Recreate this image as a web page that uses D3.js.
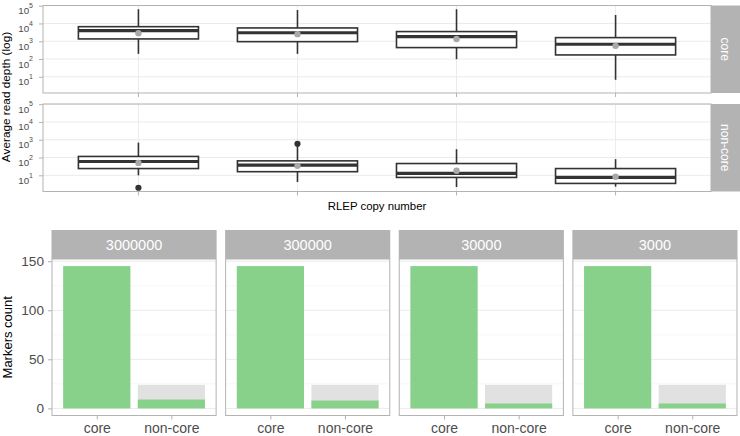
<!DOCTYPE html>
<html><head><meta charset="utf-8">
<script src="https://cdn.jsdelivr.net/npm/d3@7"></script>
<style>
body{margin:0;background:#fff}
svg{display:block}
text{font-family:"Liberation Sans",Arial,sans-serif}
</style>
</head><body>
<svg id="c" width="740" height="436"></svg>
<script>
// ---------- data ----------
const copyNumbers = ["3000000", "300000", "30000", "3000"];
const groups = ["core", "non-core"];

// boxplot statistics: average read depth
const coreLower  = [195, 195, 98, 6.8];
const coreQ1     = [1350, 950, 440, 170];
const coreMedian = [4000, 3000, 1800, 680];
const coreQ3     = [6600, 5600, 3500, 1600];
const coreUpper  = [63000, 57000, 63000, 30000];
const coreMean   = [2800, 2500, 1350, 550];

const nonCoreLower  = [10, 4.2, 2.2, 2.3];
const nonCoreQ1     = [24, 16, 7.6, 3.5];
const nonCoreMedian = [60, 37, 13, 7.6];
const nonCoreQ3     = [115, 65, 46, 24];
const nonCoreUpper  = [690, 420, 295, 81];
const nonCoreMean   = [50, 34, 18, 8.3];
const nonCoreOutliers = [[2.0], [590], [], []];

const depthTicks = [1e1, 1e2, 1e3, 1e4, 1e5];

// marker counts
const coreMarkers = [145, 145, 145, 145];
const coreTotal = [145, 145, 145, 145];
const nonCoreMarkers = [9, 8, 5, 5];
const nonCoreTotal = [24, 24, 24, 24];
const countTicks = [0, 50, 100, 150];
const countMinorTicks = [25, 75, 125];

// ---------- style ----------
const GRID = "#ebebeb", MINOR = "#f5f5f5", BORDER = "#b3b3b3", STRIP = "#b3b3b3", TXT = "#4d4d4d";
const BOX = "#333333", GREEN = "#88d18a", GREY_BAR = "#e1e1e1";

const svg = d3.select("#c");

// ================= TOP: boxplots =================
const topL = 43, topR = 711, stripR = 740;
const facetRows = [
  {name: "core", top: 5.5, bottom: 93,
   lower: coreLower, q1: coreQ1, med: coreMedian, q3: coreQ3, upper: coreUpper, mean: coreMean, out: [[], [], [], []]},
  {name: "non-core", top: 104, bottom: 191.5,
   lower: nonCoreLower, q1: nonCoreQ1, med: nonCoreMedian, q3: nonCoreQ3, upper: nonCoreUpper, mean: nonCoreMean, out: nonCoreOutliers}
];

const xTop = d3.scalePoint().domain(copyNumbers).range([topL, topR]).padding(0.6);
const boxW = xTop.step() * 0.755;

facetRows.forEach(row => {
  const y = d3.scaleLog().domain([Math.pow(10, 0.09), Math.pow(10, 5.01)]).range([row.bottom, row.top]);
  const g = svg.append("g");
  // grid
  g.selectAll(".hg").data(depthTicks).join("line")
    .attr("x1", topL).attr("x2", topR).attr("y1", d => y(d)).attr("y2", d => y(d))
    .attr("stroke", GRID).attr("stroke-width", 1);
  g.selectAll(".vg").data(copyNumbers).join("line")
    .attr("x1", d => xTop(d)).attr("x2", d => xTop(d)).attr("y1", row.top).attr("y2", row.bottom)
    .attr("stroke", GRID).attr("stroke-width", 1);

  // boxes
  copyNumbers.forEach((c, i) => {
    const cx = xTop(c);
    g.append("line").attr("x1", cx).attr("x2", cx).attr("y1", y(row.upper[i])).attr("y2", y(row.q3[i]))
      .attr("stroke", BOX).attr("stroke-width", 1.6);
    g.append("line").attr("x1", cx).attr("x2", cx).attr("y1", y(row.q1[i])).attr("y2", y(row.lower[i]))
      .attr("stroke", BOX).attr("stroke-width", 1.6);
    g.append("rect").attr("x", cx - boxW / 2).attr("width", boxW)
      .attr("y", y(row.q3[i])).attr("height", y(row.q1[i]) - y(row.q3[i]))
      .attr("fill", "#fff").attr("stroke", BOX).attr("stroke-width", 1.6);
    g.append("line").attr("x1", cx - boxW / 2).attr("x2", cx + boxW / 2)
      .attr("y1", y(row.med[i])).attr("y2", y(row.med[i]))
      .attr("stroke", BOX).attr("stroke-width", 3.2);
    row.out[i].forEach(o => {
      g.append("circle").attr("cx", cx).attr("cy", y(o)).attr("r", 3.1).attr("fill", BOX);
    });
    g.append("circle").attr("cx", cx).attr("cy", y(row.mean[i])).attr("r", 3.2).attr("fill", "#a9a9a9");
  });

  // border
  g.append("rect").attr("x", topL).attr("y", row.top).attr("width", topR - topL).attr("height", row.bottom - row.top)
    .attr("fill", "none").attr("stroke", BORDER).attr("stroke-width", 1);

  // strip
  g.append("rect").attr("x", topR).attr("y", row.top).attr("width", stripR - topR).attr("height", row.bottom - row.top)
    .attr("fill", STRIP);
  g.append("text").attr("transform", `translate(${(topR + stripR) / 2},${(row.top + row.bottom) / 2}) rotate(90)`)
    .attr("text-anchor", "middle").attr("dy", "0.35em").attr("fill", "#fff").attr("font-size", 12)
    .text(row.name);

  // y axis
  const ax = g.append("g").attr("transform", `translate(${topL},0)`)
    .call(d3.axisLeft(y).tickValues(depthTicks).tickSize(4).tickPadding(7).tickFormat(""));
  ax.select(".domain").remove();
  ax.selectAll(".tick line").attr("stroke", BORDER);
  ax.selectAll(".tick").each(function(d) {
    const t = d3.select(this).append("text").attr("x", -10).attr("y", 8)
      .attr("text-anchor", "end").attr("fill", TXT).attr("font-size", 9.8);
    t.append("tspan").text("10");
    t.append("tspan").attr("dy", -6.3).attr("font-size", 7).text(Math.round(Math.log10(d)));
  });
  // x ticks (no labels)
  g.selectAll(".xt").data(copyNumbers).join("line")
    .attr("x1", d => xTop(d)).attr("x2", d => xTop(d)).attr("y1", row.bottom).attr("y2", row.bottom + 4)
    .attr("stroke", BORDER);
});

svg.append("text").attr("transform", "translate(10,97) rotate(-90)").attr("text-anchor", "middle")
  .attr("fill", "#000").attr("font-size", 11.8).text("Average read depth (log)");
svg.append("text").attr("x", (topL + topR) / 2).attr("y", 209.5).attr("text-anchor", "middle")
  .attr("fill", "#000").attr("font-size", 11.4).text("RLEP copy number");

// ================= BOTTOM: bar facets =================
const bL = 52, bR = 737, gap = 9.5;
const panelW = (bR - bL - 3 * gap) / 4;
const stripTop = 230, pTop = 259, pBottom = 415.5;
const yC = d3.scaleLinear().domain([-7.25, 152.25]).range([pBottom, pTop]);

copyNumbers.forEach((c, i) => {
  const pl = bL + i * (panelW + gap);
  const xb = d3.scalePoint().domain(groups).range([pl, pl + panelW]).padding(0.6);
  const bw = xb.step() * 0.9;
  const g = svg.append("g");
  g.selectAll(".mg").data(countMinorTicks).join("line")
    .attr("x1", pl).attr("x2", pl + panelW).attr("y1", d => yC(d)).attr("y2", d => yC(d))
    .attr("stroke", MINOR).attr("stroke-width", 0.8);
  g.selectAll(".hg").data(countTicks).join("line")
    .attr("x1", pl).attr("x2", pl + panelW).attr("y1", d => yC(d)).attr("y2", d => yC(d))
    .attr("stroke", GRID).attr("stroke-width", 1);

  const totals = [coreTotal[i], nonCoreTotal[i]];
  const vals = [coreMarkers[i], nonCoreMarkers[i]];
  g.selectAll(".tb").data(groups).join("rect")
    .attr("x", d => xb(d) - bw / 2).attr("width", bw)
    .attr("y", (d, k) => yC(totals[k])).attr("height", (d, k) => yC(0) - yC(totals[k]))
    .attr("fill", GREY_BAR);
  g.selectAll(".gb").data(groups).join("rect")
    .attr("x", d => xb(d) - bw / 2).attr("width", bw)
    .attr("y", (d, k) => yC(vals[k])).attr("height", (d, k) => yC(0) - yC(vals[k]))
    .attr("fill", GREEN);

  g.append("rect").attr("x", pl).attr("y", pTop).attr("width", panelW).attr("height", pBottom - pTop)
    .attr("fill", "none").attr("stroke", BORDER).attr("stroke-width", 1);
  g.append("rect").attr("x", pl - 0.5).attr("y", stripTop).attr("width", panelW + 1).attr("height", pTop - stripTop)
    .attr("fill", STRIP);
  g.append("text").attr("x", pl + panelW / 2).attr("y", (stripTop + pTop) / 2).attr("dy", "0.36em")
    .attr("text-anchor", "middle").attr("fill", "#fff").attr("font-size", 14.5).text(c);

  const ax = g.append("g").attr("transform", `translate(0,${pBottom})`)
    .call(d3.axisBottom(xb).tickSize(4).tickPadding(4));
  ax.select(".domain").remove();
  ax.selectAll(".tick line").attr("stroke", BORDER);
  ax.selectAll(".tick text").attr("fill", TXT).attr("font-size", 14)
    .attr("font-family", "'Liberation Sans',Arial,sans-serif");

  if (i === 0) {
    const ay = g.append("g").attr("transform", `translate(${pl},0)`)
      .call(d3.axisLeft(yC).tickValues(countTicks).tickSize(4).tickPadding(4));
    ay.select(".domain").remove();
    ay.selectAll(".tick line").attr("stroke", BORDER);
    ay.selectAll(".tick text").attr("fill", TXT).attr("font-size", 13.6)
      .attr("font-family", "'Liberation Sans',Arial,sans-serif");
  }
});

svg.append("text").attr("transform", `translate(12,${(pTop + pBottom) / 2}) rotate(-90)`).attr("text-anchor", "middle")
  .attr("fill", "#000").attr("font-size", 13).text("Markers count");
</script>
</body></html>
